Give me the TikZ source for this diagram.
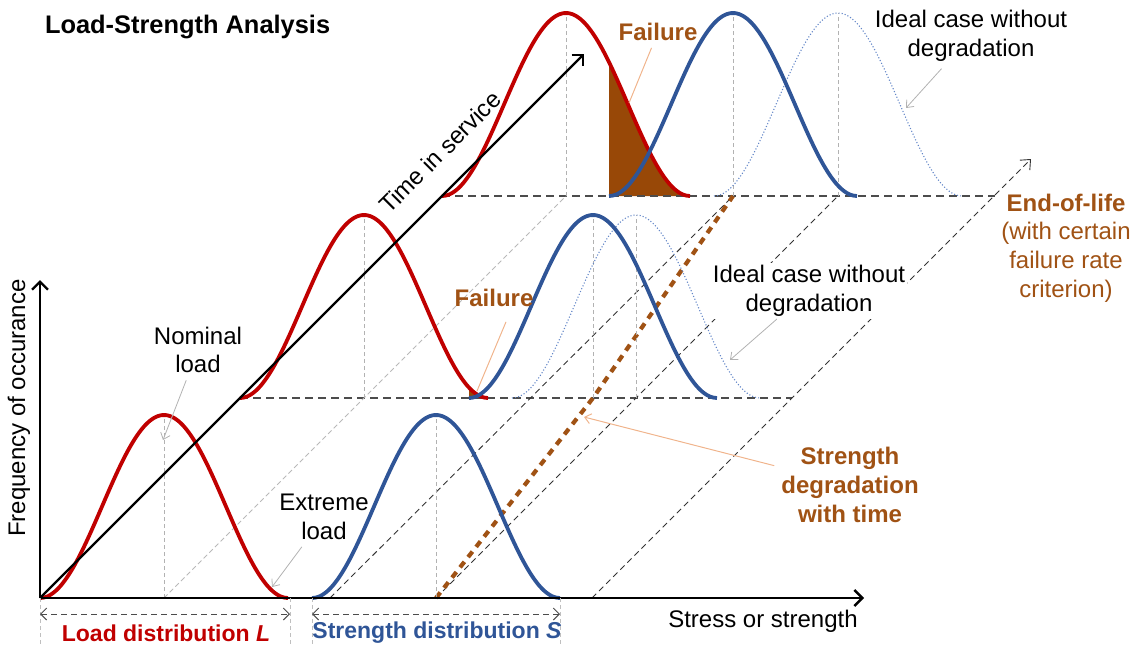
\documentclass[tikz,border=0pt]{standalone}
\usepackage{fontspec}
\setmainfont{Liberation Sans}
\usepackage{tikz}
\usetikzlibrary{arrows.meta,calc}

\definecolor{lred}{RGB}{192,0,0}
\definecolor{sblue}{RGB}{47,85,151}
\definecolor{iblue}{RGB}{100,135,200}
\definecolor{rust}{RGB}{160,82,20}
\definecolor{failfill}{RGB}{152,72,7}
\definecolor{peach}{RGB}{240,180,140}

\tikzset{
  loadcurve/.style={lred, line width=1.9pt},
  strcurve/.style={sblue, line width=1.9pt},
  idealcurve/.style={iblue, line width=0.55pt, densely dotted},
  peakline/.style={gray!60, line width=0.4pt, dash pattern=on 2pt off 1.5pt},
  levelline/.style={black!70, line width=0.6pt, dash pattern=on 4pt off 2.5pt},
  diagline/.style={black!80, line width=0.45pt, dash pattern=on 3pt off 2pt},
  grayline/.style={gray!55, line width=0.4pt, dash pattern=on 2.5pt off 1.5pt},
  degline/.style={rust, line width=2.1pt, dash pattern=on 3.5pt off 3pt},
  axisline/.style={black, line width=1.2pt, -{Straight Barb[length=4pt,width=8pt]}},
  pointer/.style={gray!60, line width=0.4pt, -{Straight Barb[length=3pt,width=5pt]}},
  leader/.style={peach, line width=0.5pt},
  dimline/.style={black!70, line width=0.5pt, dash pattern=on 3pt off 2pt,
    {Straight Barb[length=3pt,width=6pt]}-{Straight Barb[length=3pt,width=6pt]}},
  rangetick/.style={gray!50, line width=0.4pt, dash pattern=on 2pt off 1.5pt},
  rusttext/.style={rust, align=center},
  boldtext/.style={font=\fontsize{12}{14.4}\selectfont\bfseries}
}

\begin{document}
\begin{tikzpicture}[x=0.5pt,y=-0.5pt,font=\fontsize{12}{14.4}\selectfont]
  \useasboundingbox (0,0) rectangle (1136,653);
  \coordinate (O) at (40,598);
  \coordinate (xend) at (864,598);
  \coordinate (yend) at (40,280);
  \coordinate (tend) at (584,54);

  % failure areas
  \fill[failfill] (609,196) -- plot[domain=43:124, samples=30] ({566+\x},{196-91.5*(1+cos(\x/124*180))}) -- cycle;
  \fill[failfill] (469,398) -- plot[domain=105:124, samples=10] ({364+\x},{398-91.5*(1+cos(\x/124*180))}) -- cycle;

  \draw[levelline] (240,398) -- (792,398);
  \draw[levelline] (442,196) -- (995,196);
  \draw[grayline] (164,598) -- (566,196);
  \draw[diagline] (330,598) -- (733,196);
  \draw[diagline] (436,598) -- (838,196);
  \draw[diagline, -{Straight Barb[length=4pt,width=7pt]}] (592,598) -- (1031,159);
  \draw[degline] (436,598) -- (593,398) -- (733,196);

  \foreach \m/\b in {164/598, 436/598, 364/398, 593/398, 636/398, 566/196, 733/196, 838/196}
    \draw[peakline] (\m,\b) -- (\m,\b-183);

  \foreach \m/\b in {636/398, 838/196}
    \draw[idealcurve] plot[domain=-124:124, samples=60, smooth] ({\m+\x},{\b-91.5*(1+cos(\x/124*180))});
  \foreach \m/\b in {164/598, 364/398, 566/196}
    \draw[loadcurve] plot[domain=-124:124, samples=60, smooth] ({\m+\x},{\b-91.5*(1+cos(\x/124*180))});
  \foreach \m/\b in {436/598, 593/398, 733/196}
    \draw[strcurve] plot[domain=-124:124, samples=60, smooth] ({\m+\x},{\b-91.5*(1+cos(\x/124*180))});

  \draw[axisline] (O) -- (xend);
  \draw[axisline] (O) -- (yend);
  \draw[black, line width=1.1pt, -{Straight Barb[length=4pt,width=8pt]}] (O) -- (tend);
  \node[rotate=45] (tis) at (440,152) {Time in service};

  % distributions at the bottom
  \foreach \x in {40,290,312,560}
    \draw[rangetick] (\x,598) -- (\x,645);
  \coordinate (ldA) at (40,614);
  \coordinate (ldB) at (290,614);
  \coordinate (sdA) at (312,614);
  \coordinate (sdB) at (560,614);
  \draw[dimline] (ldA) -- (ldB);
  \draw[dimline] (sdA) -- (sdB);
  \node[lred, font=\fontsize{11.5}{14}\selectfont\bfseries] (loadlbl) at (166,633) {Load distribution \textit{L}};
  \node[sblue, font=\fontsize{11.5}{14}\selectfont\bfseries] (strlbl) at (437,633) {Strength distribution \textit{S}};

  \node[anchor=west, font=\fontsize{12.7}{15}\selectfont\bfseries] (title) at (38,27) {Load-Strength Analysis};
  \node[rotate=90] (ylabel) at (19,408) {Frequency of occurance};
  \node (xlabel) at (763,621) {Stress or strength};

  \node[align=center] (nominal) at (198,350) {Nominal\\load};
  \coordinate (nompk) at (163,440);
  \draw[pointer] (nominal) -- (nompk);
  \node[align=center] (extreme) at (324,517) {Extreme\\load};
  \coordinate (extpt) at (272,587);
  \draw[pointer] (extreme) -- (extpt);

  \node[rusttext, boldtext] (fail1) at (494,298) {Failure};
  \coordinate (f1pt) at (477,391);
  \draw[leader] ($(fail1.south)+(12,8)$) -- (f1pt);
  \node[rusttext, boldtext] (fail2) at (658,32) {Failure};
  \coordinate (f2pt) at (629,103);
  \draw[leader] (fail2) -- (f2pt);

  \node[align=center] (ideal2) at (971,36) {Ideal case without\\degradation};
  \coordinate (i2pt) at (906,108);
  \draw[pointer] (ideal2) -- (i2pt);
  \node[align=center, fill=white, inner sep=1pt] (ideal1) at (809,291) {Ideal case without\\degradation};
  \coordinate (i1pt) at (730,360);
  \draw[pointer] (ideal1) -- (i1pt);

  \node[rusttext] (eol) at (1066,248) {\textbf{End-of-life}\\(with certain\\failure rate\\criterion)};
  \node[rusttext, boldtext] (degr) at (850,485) {Strength\\degradation\\with time};
  \coordinate (degpt) at (584,417);
  \draw[leader, -{Straight Barb[length=3pt,width=5pt]}] (degr) -- (degpt);
%\draw[red] (0,0) rectangle (1136,653);
\end{tikzpicture}
\end{document}
